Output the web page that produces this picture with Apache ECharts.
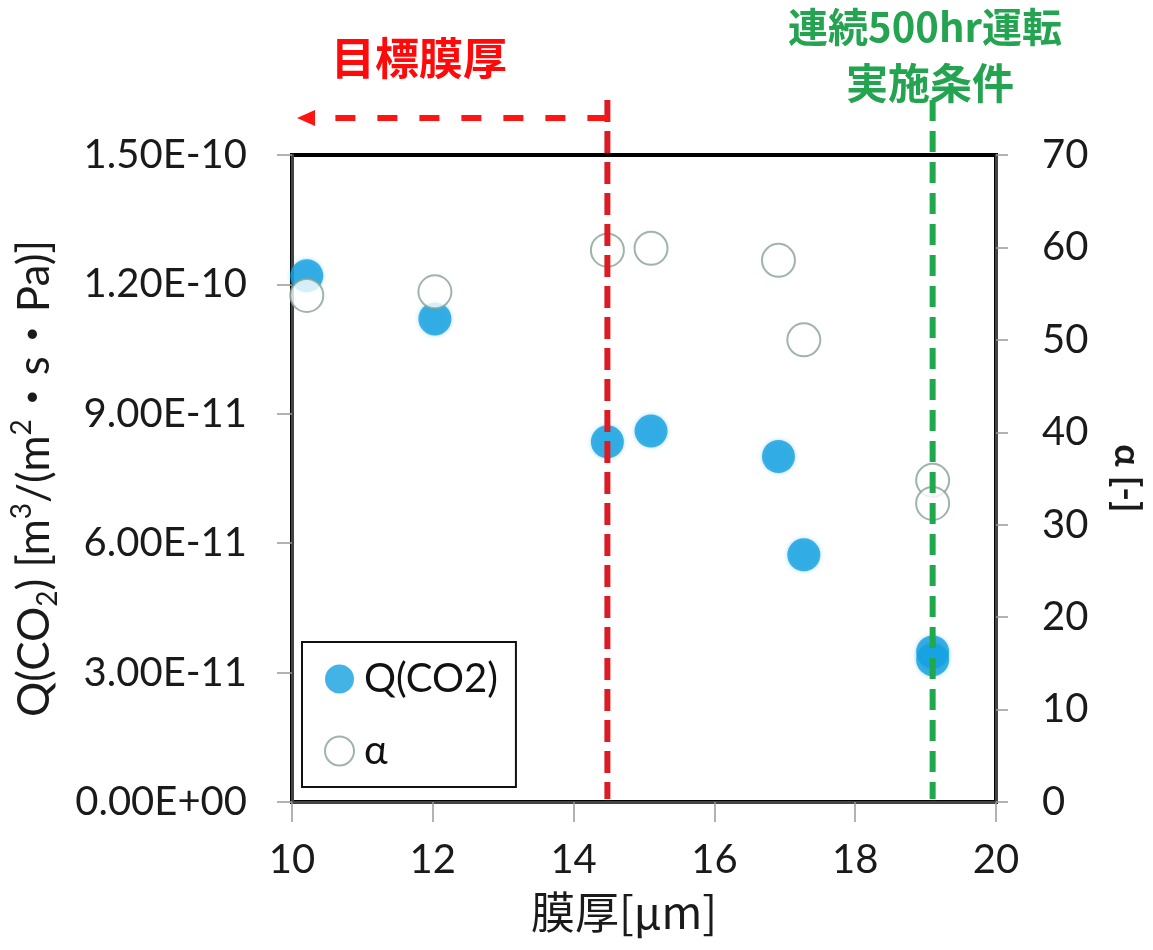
<!DOCTYPE html>
<html>
<head>
<meta charset="utf-8">
<script src="https://cdn.jsdelivr.net/npm/echarts@6/dist/echarts.min.js"></script>
<style>
  html, body { margin: 0; padding: 0; background: #fff; }
  #chart { width: 1153px; height: 950px; }
</style>
</head>
<body>
<div id="chart"></div>
<script>
// Membrane thickness [µm] for each sample
const thickness = [10.21, 12.03, 14.48, 15.10, 16.91, 17.27, 19.10, 19.10];
// CO2 permeance Q(CO2) [m3/(m2·s·Pa)]
const qCO2 = [1.22e-10, 1.12e-10, 8.35e-11, 8.60e-11, 8.01e-11, 5.73e-11, 3.48e-11, 3.30e-11];
// Separation factor α [-]
const alpha = [54.8, 55.2, 59.7, 59.9, 58.6, 50.0, 34.8, 32.3];

// Left axis tick labels (Excel-style exponent format)
const leftTickLabels = ['0.00E+00', '3.00E-11', '6.00E-11', '9.00E-11', '1.20E-10', '1.50E-10'];
const leftStep = 3e-11;

// Reference thicknesses marked by dashed lines
const targetThickness = 14.48;   // 目標膜厚
const longRunThickness = 19.10;  // 連続500hr運転 実施条件

const FONT = 'Lato, "Noto Sans CJK JP", sans-serif';
const CJK = '"Noto Sans CJK JP", sans-serif';

const chart = echarts.init(document.getElementById('chart'), null, { renderer: 'canvas' });

const option = {
  backgroundColor: '#ffffff',
  animation: false,
  grid: {
    left: 287, right: 156, top: 155, bottom: 148,
    show: true, borderColor: '#000', borderWidth: 4, backgroundColor: 'transparent'
  },
  legend: {
    left: 302, top: 642,
    orient: 'vertical',
    itemWidth: 29, itemHeight: 29, itemGap: 32,
    borderColor: '#111', borderWidth: 2,
    padding: [17, 18, 16, 22],
    textStyle: { fontFamily: FONT, fontSize: 40, lineHeight: 40, color: '#111', padding: [0, 0, 0, 5] },
    data: [
      { name: 'Q(CO2)', icon: 'circle' },
      { name: 'α', icon: 'circle' }
    ]
  },
  xAxis: {
    type: 'value', min: 10, max: 20, interval: 2,
    name: '膜厚[μm]', nameLocation: 'middle', nameGap: 88,
    nameTextStyle: { fontFamily: CJK, fontSize: 44, color: '#1a1a1a', padding: [0, 40, 0, 0] },
    axisLine: { show: true, lineStyle: { color: '#444', width: 3 } },
    axisTick: { show: true, inside: false, length: 20, lineStyle: { color: '#999', width: 1.5 } },
    axisLabel: { fontFamily: FONT, fontSize: 40, color: '#1a1a1a', margin: 38 },
    splitLine: { show: false }
  },
  yAxis: [
    {
      type: 'value', position: 'left', min: 0, max: 1.5e-10, interval: leftStep,
      name: 'Q(CO{sub|2}) [m{sup|3}/(m{sup|2}・s・Pa)]',
      nameLocation: 'middle', nameGap: 230,
      nameTextStyle: {
        fontFamily: FONT, fontSize: 44, lineHeight: 54, color: '#1a1a1a',
        rich: {
          sub: { fontFamily: FONT, fontSize: 28, lineHeight: 32, verticalAlign: 'bottom', color: '#1a1a1a' },
          sup: { fontFamily: FONT, fontSize: 28, lineHeight: 32, verticalAlign: 'top', color: '#1a1a1a' }
        }
      },
      axisLine: { show: true, lineStyle: { color: '#444', width: 3 } },
      axisTick: { show: true, inside: false, length: 15, lineStyle: { color: '#999', width: 1.5 } },
      axisLabel: {
        fontFamily: FONT, fontSize: 40, color: '#1a1a1a', margin: 45,
        formatter: v => leftTickLabels[Math.round(v / leftStep)]
      },
      splitLine: { show: false }
    },
    {
      type: 'value', position: 'right', min: 0, max: 70, interval: 10,
      name: 'α [-]', nameLocation: 'middle', nameGap: 112, nameRotate: -90,
      nameTextStyle: { fontFamily: FONT, fontSize: 37, fontWeight: 'bold', color: '#1a1a1a' },
      axisLine: { show: true, lineStyle: { color: '#444', width: 3 } },
      axisTick: { show: true, inside: false, length: 12, lineStyle: { color: '#999', width: 1.5 } },
      axisLabel: { fontFamily: FONT, fontSize: 40, color: '#1a1a1a', margin: 46 },
      splitLine: { show: false }
    }
  ],
  series: [
    {
      name: 'Q(CO2)', type: 'scatter', yAxisIndex: 0, z: 2,
      symbol: 'circle', symbolSize: 33,
      itemStyle: { color: '#14a0e0', shadowBlur: 4, shadowColor: 'rgba(20,160,224,0.45)' },
      data: thickness.map((t, i) => [t, qCO2[i]])
    },
    {
      name: 'α', type: 'scatter', yAxisIndex: 1, z: 3,
      symbol: 'circle', symbolSize: 33,
      itemStyle: { color: '#ffffff', borderColor: '#86a292', borderWidth: 2 },
      data: thickness.map((t, i) => [t, alpha[i]])
    }
  ]
};

chart.setOption(option);

// Dashed reference lines and annotations, positioned via the axis scales
const [xTarget, yZero] = chart.convertToPixel({ xAxisIndex: 0, yAxisIndex: 0 }, [targetThickness, 0]);
const [xLongRun] = chart.convertToPixel({ xAxisIndex: 0, yAxisIndex: 0 }, [longRunThickness, 0]);
const [xMin, yTop] = chart.convertToPixel({ xAxisIndex: 0, yAxisIndex: 0 }, [10, 1.5e-10]);

const lineTop = yTop - 55;
const arrowY = yTop - 37;

chart.setOption({
  graphic: [
    {
      type: 'line', z: 100,
      shape: { x1: xTarget, y1: lineTop, x2: xTarget, y2: yZero - 3 },
      style: { stroke: '#dc1c24', lineWidth: 6, lineDash: [22, 9] }
    },
    {
      type: 'line', z: 100,
      shape: { x1: xTarget, y1: arrowY, x2: xMin + 20, y2: arrowY },
      style: { stroke: '#ff1414', lineWidth: 6, lineDash: [20, 22] }
    },
    {
      type: 'polygon', z: 100,
      shape: { points: [[xMin + 5, arrowY], [xMin + 23, arrowY - 8], [xMin + 23, arrowY + 8]] },
      style: { fill: '#ff1414' }
    },
    {
      type: 'line', z: 100,
      shape: { x1: xLongRun, y1: lineTop, x2: xLongRun, y2: yZero - 3 },
      style: { stroke: '#1fa84c', lineWidth: 6, lineDash: [21, 10] }
    },
    {
      type: 'text', z: 100, x: 419, y: 58,
      style: {
        text: '目標膜厚', fill: '#ff0a0a', font: 'bold 44px ' + CJK,
        textAlign: 'center', textVerticalAlign: 'middle'
      }
    },
    {
      type: 'text', z: 100, x: 925, y: 27,
      style: {
        text: '連続500hr運転', fill: '#24a451', font: 'bold 40px ' + CJK,
        textAlign: 'center', textVerticalAlign: 'middle'
      }
    },
    {
      type: 'text', z: 100, x: 930, y: 83,
      style: {
        text: '実施条件', fill: '#24a451', font: 'bold 42px ' + CJK,
        textAlign: 'center', textVerticalAlign: 'middle'
      }
    }
  ]
});
</script>
</body>
</html>
